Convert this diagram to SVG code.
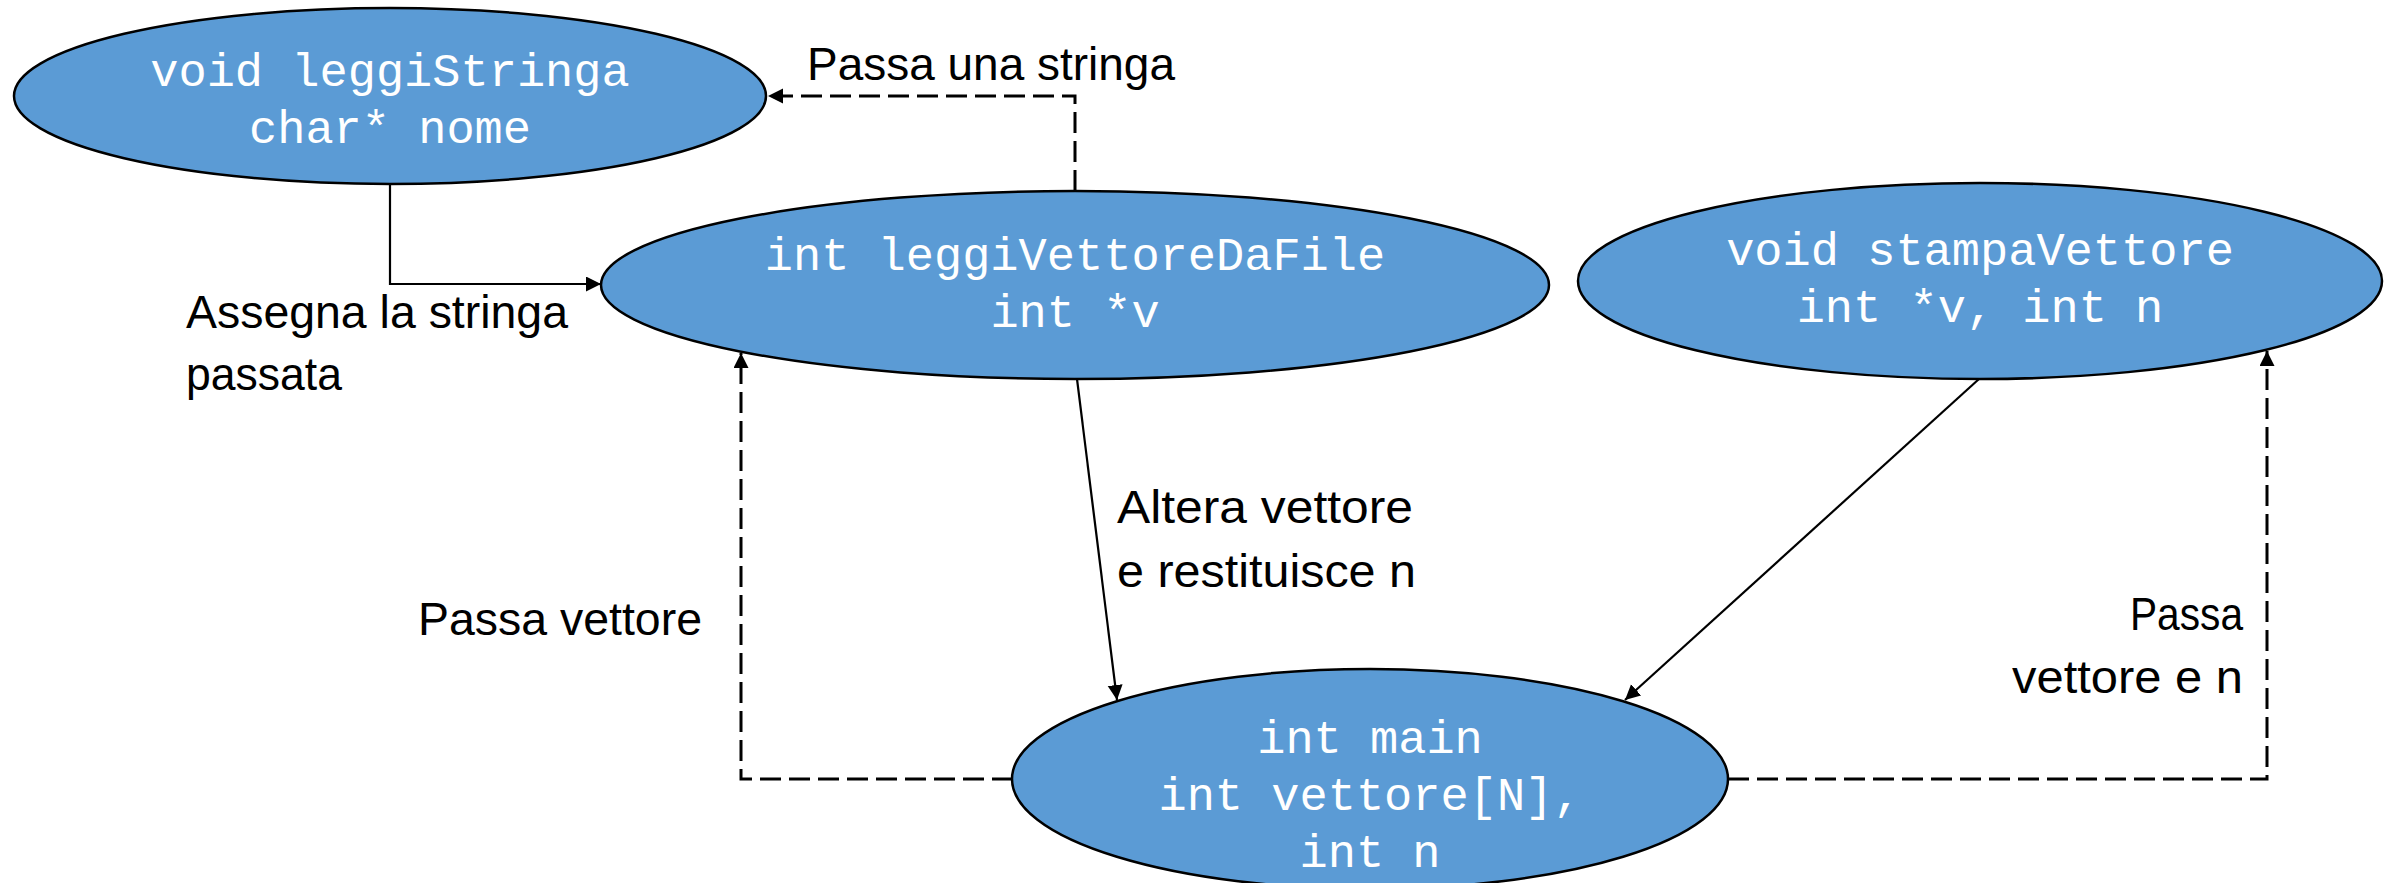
<svg xmlns="http://www.w3.org/2000/svg" width="2399" height="883" viewBox="0 0 2399 883">
<style>
.node ellipse{fill:#5B9BD5;stroke:#000;stroke-width:2.5}
.code{font-family:"Liberation Mono","Courier New",monospace;font-size:47px;fill:#fff;text-anchor:middle}
.lbl{font-family:"Liberation Sans",Arial,sans-serif;font-size:46px;fill:#000}
.solid{fill:none;stroke:#000;stroke-width:2.2}
.dash{fill:none;stroke:#000;stroke-width:3;stroke-dasharray:21 8}
</style>
<defs>
<marker id="arr" markerUnits="userSpaceOnUse" markerWidth="16" markerHeight="16" refX="15" refY="7.5" orient="auto">
<path d="M0,0 L15,7.5 L0,15 z" fill="#000"/>
</marker>
</defs>
<rect width="2399" height="883" fill="#fff"/>
<g id="leggiStringa" class="node">
<ellipse cx="390" cy="96" rx="376" ry="88"/>
<text class="code" x="390" y="86">void leggiStringa</text>
<text class="code" x="390" y="143">char* nome</text>
</g>
<g id="leggiVettoreDaFile" class="node">
<ellipse cx="1075" cy="285" rx="474" ry="94"/>
<text class="code" x="1075" y="270">int leggiVettoreDaFile</text>
<text class="code" x="1075" y="327">int *v</text>
</g>
<g id="stampaVettore" class="node">
<ellipse cx="1980" cy="281" rx="402" ry="98"/>
<text class="code" x="1980" y="265">void stampaVettore</text>
<text class="code" x="1980" y="322">int *v, int n</text>
</g>
<g id="main" class="node">
<ellipse cx="1370" cy="779" rx="358" ry="110"/>
<text class="code" x="1370" y="753">int main</text>
<text class="code" x="1370" y="810">int vettore[N],</text>
<text class="code" x="1370" y="867">int n</text>
</g>
<g id="connectors">
<path class="solid" d="M390 184 V284 H601" marker-end="url(#arr)"/>
<path class="dash" d="M1075 191 V96 H768" marker-end="url(#arr)"/>
<path class="dash" d="M1013 779 H741 V353" marker-end="url(#arr)"/>
<path class="solid" d="M1077 379 L1117 700" marker-end="url(#arr)"/>
<path class="solid" d="M1979 379 L1625 700" marker-end="url(#arr)"/>
<path class="dash" d="M1728 779 H2267 V351" marker-end="url(#arr)"/>
</g>
<g id="labels">
<text class="lbl" x="807" y="80" textLength="368" lengthAdjust="spacingAndGlyphs">Passa una stringa</text>
<text class="lbl" x="186" y="328" textLength="382" lengthAdjust="spacingAndGlyphs">Assegna la stringa</text>
<text class="lbl" x="186" y="390" textLength="156" lengthAdjust="spacingAndGlyphs">passata</text>
<text class="lbl" x="1117" y="523" textLength="296" lengthAdjust="spacingAndGlyphs">Altera vettore</text>
<text class="lbl" x="1117" y="587" textLength="299" lengthAdjust="spacingAndGlyphs">e restituisce n</text>
<text class="lbl" x="418" y="635" textLength="284" lengthAdjust="spacingAndGlyphs">Passa vettore</text>
<text class="lbl" x="2130" y="630" textLength="113" lengthAdjust="spacingAndGlyphs">Passa</text>
<text class="lbl" x="2012" y="693" textLength="231" lengthAdjust="spacingAndGlyphs">vettore e n</text>
</g>
</svg>
